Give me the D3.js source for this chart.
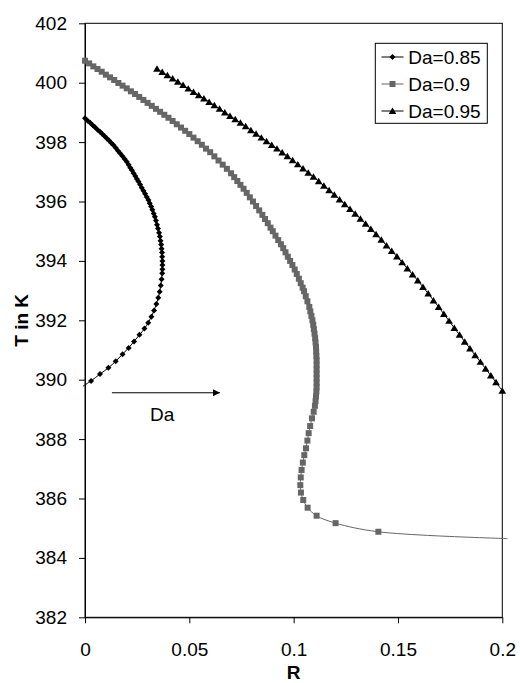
<!DOCTYPE html>
<html>
<head>
<meta charset="utf-8">
<script src="https://cdn.jsdelivr.net/npm/d3@7"></script>
<style>
  html, body { margin: 0; padding: 0; background: #fff; }
  svg { display: block; font-family: "Liberation Sans", Arial, sans-serif; }
</style>
</head>
<body>
<svg id="chart" width="520" height="683"></svg>
<script>
// ---- Data (R, T in K) ----
const da085 = [
  [0,398.80],[0.0013,398.72],[0.0025,398.65],[0.0037,398.57],[0.0048,398.50],[0.0060,398.42],[0.0072,398.35],
  [0.0083,398.27],[0.0094,398.20],[0.0105,398.12],[0.0115,398.05],[0.0126,397.97],[0.0136,397.90],
  [0.0147,397.81],[0.0158,397.71],[0.0169,397.62],[0.0180,397.52],[0.0190,397.43],[0.0200,397.34],
  [0.0209,397.24],[0.0217,397.14],[0.0225,397.05],[0.0233,396.95],[0.0241,396.86],[0.0249,396.76],[0.0256,396.67],
  [0.0264,396.57],[0.0272,396.46],[0.0280,396.36],[0.0288,396.26],[0.0296,396.15],[0.0304,396.05],
  [0.0310,395.94],[0.0317,395.83],[0.0323,395.72],[0.0329,395.60],[0.0335,395.49],
  [0.0340,395.36],[0.0345,395.22],[0.0350,395.09],[0.0355,394.95],[0.0359,394.82],
  [0.0362,394.68],[0.0365,394.55],[0.0367,394.41],[0.0369,394.28],[0.0370,394.14],
  [0.0371,394.00],[0.0371,393.86],[0.0371,393.72],[0.0370,393.58],
  [0.0367,393.38],[0.0363,393.17],[0.0358,392.96],[0.0351,392.76],[0.0342,392.55],[0.0331,392.33],
  [0.0318,392.12],[0.0303,391.92],[0.0285,391.72],[0.0261,391.51],[0.0235,391.29],[0.0209,391.07],
  [0.0180,390.86],[0.0147,390.62],[0.0112,390.40],[0.0072,390.19],[0.0029,389.96],[-0.0010,389.78]
];

const da090 = [
  [0.000,400.74],[0.002,400.65],[0.004,400.55],[0.006,400.46],[0.008,400.37],[0.010,400.27],[0.012,400.18],
  [0.014,400.09],[0.016,399.99],[0.018,399.90],[0.020,399.81],[0.022,399.71],[0.024,399.62],[0.026,399.52],
  [0.028,399.42],[0.030,399.32],[0.032,399.22],[0.034,399.12],[0.036,399.02],[0.038,398.92],[0.040,398.82],
  [0.042,398.71],[0.044,398.60],[0.046,398.49],[0.048,398.38],[0.050,398.27],[0.052,398.15],[0.054,398.03],
  [0.056,397.91],[0.058,397.78],[0.060,397.66],[0.062,397.52],[0.064,397.38],[0.066,397.24],[0.068,397.10],
  [0.070,396.95],[0.0715,396.82],[0.0730,396.69],[0.0745,396.56],[0.0760,396.43],[0.0775,396.29],
  [0.0790,396.14],[0.0805,396.00],[0.0820,395.85],[0.0835,395.70],[0.0850,395.55],[0.0863,395.41],
  [0.0876,395.27],[0.0889,395.12],[0.0900,395.00],[0.0913,394.85],[0.0926,394.70],[0.0939,394.56],
  [0.0950,394.43],[0.0961,394.29],[0.0972,394.14],[0.0983,394.00],[0.0994,393.86],[0.1005,393.71],
  [0.1015,393.56],[0.1025,393.40],[0.1034,393.25],[0.1043,393.10],[0.1050,392.98],[0.1058,392.81],
  [0.1066,392.64],[0.1075,392.45],[0.1080,392.30],[0.1085,392.15],[0.1090,392.00],[0.1094,391.85],
  [0.1097,391.70],[0.1100,391.55],[0.1103,391.40],[0.1105,391.25],[0.1107,391.10],[0.1108,390.95],
  [0.1109,390.80],[0.1110,390.65],[0.1110,390.50],[0.1110,390.35],[0.1110,390.20],[0.1110,390.05],
  [0.1110,389.90],[0.1110,389.75],[0.1109,389.60],[0.1107,389.44],[0.1105,389.28],[0.1102,389.12],
  [0.1096,388.92],[0.1088,388.70],[0.1079,388.44],[0.1072,388.20],[0.1066,387.95],[0.1059,387.69],
  [0.1051,387.46],[0.1044,387.21],[0.1038,386.96],[0.1034,386.71],[0.1032,386.45],[0.1035,386.20],
  [0.1046,385.95],[0.1067,385.69],[0.1110,385.42],[0.1201,385.17],[0.1406,384.88],[0.2025,384.65]
];

const da095 = [
  [0.0345,400.47],[0.0370,400.36],[0.0395,400.25],[0.0420,400.14],[0.0445,400.03],[0.0470,399.92],
  [0.0495,399.80],[0.0520,399.69],[0.0545,399.58],[0.0570,399.47],[0.0595,399.35],[0.0620,399.24],
  [0.0645,399.12],[0.0670,399.00],[0.0695,398.88],[0.0720,398.77],[0.0745,398.65],[0.0770,398.53],
  [0.0795,398.40],[0.0820,398.28],[0.0845,398.15],[0.0870,398.03],[0.0895,397.90],[0.0920,397.78],
  [0.0945,397.65],[0.0970,397.52],[0.0995,397.39],[0.1020,397.25],[0.1045,397.11],[0.1070,396.97],
  [0.1095,396.83],[0.1120,396.68],[0.1145,396.53],[0.1170,396.38],[0.1195,396.23],[0.1220,396.07],
  [0.1245,395.91],[0.1270,395.75],[0.1295,395.59],[0.1320,395.42],[0.1345,395.25],[0.1370,395.07],
  [0.1395,394.90],[0.1420,394.71],[0.1445,394.52],[0.1470,394.33],[0.1495,394.15],[0.1520,393.95],
  [0.1545,393.74],[0.1570,393.54],[0.1595,393.34],[0.1620,393.12],[0.1645,392.90],[0.1670,392.67],
  [0.1695,392.45],[0.1720,392.21],[0.1745,391.98],[0.1770,391.74],[0.1795,391.51],[0.1820,391.28],
  [0.1845,391.05],[0.1870,390.82],[0.1895,390.60],[0.1920,390.37],[0.1945,390.14],[0.1970,389.91],
  [0.2000,389.63]
];

const seriesNames = ["Da=0.85", "Da=0.9", "Da=0.95"];
const xTicks = [0, 0.05, 0.1, 0.15, 0.2];
const xTickLabels = ["0", "0.05", "0.1", "0.15", "0.2"];
const yTicks = [382, 384, 386, 388, 390, 392, 394, 396, 398, 400, 402];
const arrowFrom = [0.0129, 389.56];
const arrowTo = [0.0647, 389.56];
const arrowLabel = { text: "Da", R: 0.0370, T: 388.61 };

// ---- Layout ----
const svg = d3.select("#chart");
const pL = 85, pR = 502.3, pT = 23.3, pB = 617.3;
const FS = 19;

const x = d3.scaleLinear().domain([0, 0.2]).range([pL, pR]);
const y = d3.scaleLinear().domain([382, 402]).range([pB, pT]);

// plot border
svg.append("rect")
  .attr("x", pL).attr("y", pT)
  .attr("width", pR - pL).attr("height", pB - pT)
  .attr("fill", "none").attr("stroke", "#000").attr("stroke-width", 1);

// axes
const yAxis = svg.append("g")
  .attr("transform", `translate(${pL},0)`)
  .call(d3.axisLeft(y).tickValues(yTicks).tickSize(6).tickSizeOuter(0).tickPadding(12).tickFormat(d3.format("d")));
const xAxis = svg.append("g")
  .attr("transform", `translate(0,${pB})`)
  .call(d3.axisBottom(x).tickValues(xTicks).tickSize(6).tickSizeOuter(0).tickPadding(19)
    .tickFormat((d, i) => xTickLabels[i]));
[yAxis, xAxis].forEach(g => {
  g.selectAll("text").attr("font-size", FS).attr("fill", "#000").attr("font-family", "Liberation Sans, Arial, sans-serif");
  g.selectAll("line").attr("stroke", "#000");
  g.select(".domain").attr("stroke", "#000");
});

// axis titles
svg.append("text")
  .attr("x", (pL + pR) / 2).attr("y", 679)
  .attr("text-anchor", "middle").attr("font-size", FS).attr("font-weight", "bold")
  .text("R");
svg.append("text")
  .attr("transform", `translate(28,${(pT + pB) / 2}) rotate(-90)`)
  .attr("text-anchor", "middle").attr("font-size", FS).attr("font-weight", "bold")
  .text("T in K");

// markers
function diamondPath(s) { return `M0,${-s}L${s},0L0,${s}L${-s},0Z`; }
function squarePath(s) { return `M${-s},${-s}H${s}V${s}H${-s}Z`; }
function trianglePath(s) { return `M0,${-s}L${s * 1.1},${s * 0.85}L${-s * 1.1},${s * 0.85}Z`; }

const series = [
  { name: seriesNames[0], data: da085, color: "#000", marker: diamondPath(3.0) },
  { name: seriesNames[1], data: da090, color: "#666", marker: squarePath(3.0) },
  { name: seriesNames[2], data: da095, color: "#000", marker: trianglePath(3.5) }
];

const line = d3.line().x(d => x(d[0])).y(d => y(d[1])).curve(d3.curveCatmullRom.alpha(0.5));

series.forEach(s => {
  const g = svg.append("g");
  g.append("path").attr("d", line(s.data))
    .attr("fill", "none").attr("stroke", s.color).attr("stroke-width", 1);
  g.selectAll("path.m").data(s.data.filter(d => d[0] >= 0 && d[0] <= 0.2))
    .enter().append("path").attr("class", "m")
    .attr("transform", d => `translate(${x(d[0])},${y(d[1])})`)
    .attr("d", s.marker).attr("fill", s.color);
});

// arrow annotation
const defs = svg.append("defs");
defs.append("marker").attr("id", "ah").attr("viewBox", "0 0 10 10")
  .attr("refX", 10).attr("refY", 5).attr("markerWidth", 8).attr("markerHeight", 7)
  .attr("markerUnits", "userSpaceOnUse").attr("orient", "auto")
  .append("path").attr("d", "M0,0L10,5L0,10Z").attr("fill", "#000");
svg.append("line")
  .attr("x1", x(arrowFrom[0])).attr("y1", y(arrowFrom[1]))
  .attr("x2", x(arrowTo[0])).attr("y2", y(arrowTo[1]))
  .attr("stroke", "#000").attr("stroke-width", 1).attr("marker-end", "url(#ah)");
svg.append("text")
  .attr("x", x(arrowLabel.R)).attr("y", y(arrowLabel.T))
  .attr("text-anchor", "middle").attr("font-size", FS)
  .text(arrowLabel.text);

// legend
const lg = svg.append("g");
lg.append("rect").attr("x", 375.3).attr("y", 43.3).attr("width", 112).attr("height", 80)
  .attr("fill", "#fff").attr("stroke", "#000").attr("stroke-width", 1);
series.forEach((s, i) => {
  const cy = 57 + i * 27;
  lg.append("line").attr("x1", 381.5).attr("x2", 403.5).attr("y1", cy).attr("y2", cy)
    .attr("stroke", s.color).attr("stroke-width", 1);
  lg.append("path").attr("transform", `translate(392.5,${cy})`).attr("d", s.marker).attr("fill", s.color);
  lg.append("text").attr("x", 408.3).attr("y", cy).attr("dy", "0.35em")
    .attr("font-size", FS).text(s.name);
});
</script>
</body>
</html>
